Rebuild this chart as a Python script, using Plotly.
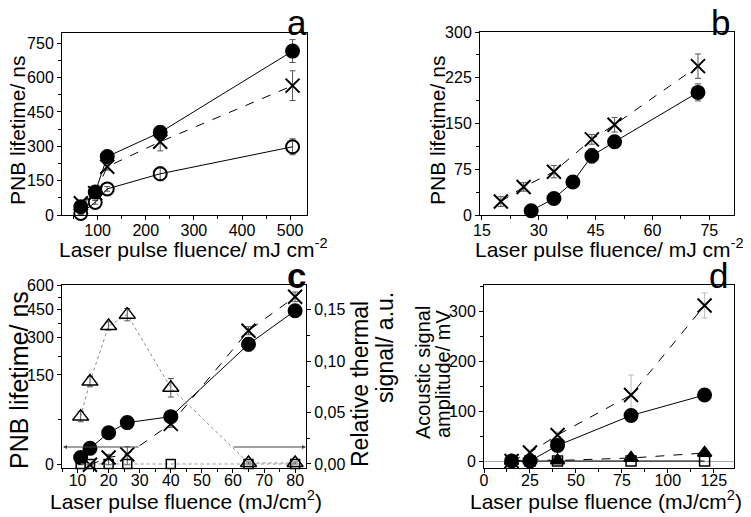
import numpy as np
import plotly.graph_objects as go

# page is shown with the browser's default 8px body margin
OFF = 8
W, H = 751 - OFF, 517 - OFF
FONT = "Liberation Sans, Arial, sans-serif"

# ---- panel a: PNB lifetime vs fluence
a_x = [65, 95, 120, 230, 505]
a_filled = [36, 100, 255, 361, 716]
a_filled_err = [8, 12, 15, 25, 50]
a_cross = [51, 95, 211, 320, 565]
a_cross_err = [8, 10, 15, 40, 65]
a_open = [7, 55, 114, 180, 298]
a_open_err = [5, 8, 10, 30, 35]

# ---- panel b
b_filled_x = [28, 34, 39, 44, 50, 72]
b_filled = [7, 27, 54, 97, 120, 201]
b_filled_err = [4, 5, 5, 12, 10, 14]
b_cross_x = [20, 26, 34, 44, 50, 72]
b_cross = [22, 46, 71, 124, 148, 244]
b_cross_err = [8, 7, 10, 8, 12, 20]

# ---- panel c (left axis is sqrt-like, right axis linear)
c_x = [11, 14, 20, 26, 40, 65, 80]
c_filled = [1, 5, 19, 33, 43, 270, 441]
c_filled_err = [1, 2, 4, 5, 5, 30, 35]
c_cross_x = [14, 20, 26, 40, 65, 80]
c_cross = [0, 1, 2, 31, 334, 524]
c_cross_err = [0, 1, 4, 5, 20, 30]
c_thermal = [0.046, 0.080, 0.134, 0.145, 0.074, 0.001, 0.001]
c_thermal_err = [0.005, 0.005, 0.004, 0.006, 0.009, 0.001, 0.001]
c_square = [0, 0, 0, 0, 0, 0, 0]
c_left_ticks = [0, 150, 300, 450, 600]

# ---- panel d: acoustic amplitude
d_x = [15, 25, 40, 80, 120]
d_cross = [0, 17, 52, 132, 311]
d_cross_err = [2, 5, 6, 40, 25]
d_filled = [0, 0, 31, 91, 132]
d_filled_err = [1, 2, 4, 6, 12]
d_tri = [0, 3, 1, 6, 16]
d_square = [0, 0, 0, 0, 0]


def px(x):
    return (x - OFF) / W


def py(y):
    return 1 - (y - OFF) / H


def err(vals, color="#555"):
    return dict(type="data", array=vals, color=color, thickness=1, width=3)


def series(x, y, xa, ya, symbol, size=13, dash="solid", lcolor="black",
           error=None, lw=1, mline=2):
    return go.Scatter(
        x=x, y=y, xaxis=xa, yaxis=ya, mode="lines+markers",
        line=dict(color=lcolor, width=lw, dash=dash),
        marker=dict(symbol=symbol, size=size, color="black",
                    line=dict(color="black", width=mline)),
        error_y=error, cliponaxis=False, showlegend=False,
    )


fig = go.Figure()

# panel a
fig.add_trace(series(a_x, a_open, "x", "y", "circle-open", error=err(a_open_err)))
fig.add_trace(series(a_x, a_cross, "x", "y", "x-thin-open", 14, "dash", error=err(a_cross_err)))
fig.add_trace(series(a_x, a_filled, "x", "y", "circle", error=err(a_filled_err)))

# panel b
fig.add_trace(series(b_cross_x, b_cross, "x2", "y2", "x-thin-open", 14, "dash", error=err(b_cross_err)))
fig.add_trace(series(b_filled_x, b_filled, "x2", "y2", "circle", error=err(b_filled_err)))

# panel c: sqrt transform for the lifetime axis
sq = np.sqrt


def sq_err(vals, e):
    v = np.array(vals, float)
    e = np.array(e, float)
    return dict(type="data", symmetric=False, array=sq(v + e) - sq(v),
                arrayminus=sq(v) - sq(np.clip(v - e, 0, None)),
                color="#555", thickness=1, width=3)


fig.add_trace(series(c_x, c_square, "x3", "y5", "square-open", 9, "dot", "#999", mline=1.5))
fig.add_trace(series(c_x, c_thermal, "x3", "y5", "triangle-up-open", 14, "dot", "#888",
                     error=err(c_thermal_err), mline=1.5))
fig.add_trace(series(c_cross_x, sq(c_cross), "x3", "y3", "x-thin-open", 14, "dash",
                     error=sq_err(c_cross, c_cross_err)))
fig.add_trace(series(c_x, sq(c_filled), "x3", "y3", "circle",
                     error=sq_err(c_filled, c_filled_err)))

# panel d
fig.add_trace(series(d_x, d_square, "x4", "y4", "square-open", 10, mline=1.5))
fig.add_trace(series(d_x, d_tri, "x4", "y4", "triangle-up", 12, "dash"))
fig.add_trace(series(d_x, d_cross, "x4", "y4", "x-thin-open", 14, "dash", error=err(d_cross_err, "#bbb")))
fig.add_trace(series(d_x, d_filled, "x4", "y4", "circle", error=err(d_filled_err, "#bbb")))

tickfont = dict(size=16, color="black", family=FONT)
common = dict(showline=True, linecolor="black", linewidth=1, mirror=True,
              ticks="outside", ticklen=4, tickwidth=1, tickcolor="black",
              showgrid=False, zeroline=False, tickfont=tickfont, automargin=False)
minor = dict(ticks="outside", ticklen=3, tickcolor="black", tickwidth=1)

fig.update_layout(
    width=W, height=H, margin=dict(l=0, r=0, t=0, b=0),
    paper_bgcolor="white", plot_bgcolor="white",
    separators=",.", font=dict(family=FONT, color="black"),
    xaxis=dict(**common, domain=[px(62), px(307)], range=[26, 535], anchor="y",
               tickvals=[100, 200, 300, 400, 500], ticklabelstandoff=-3,
               minor=dict(**minor, dtick=50, tick0=0)),
    yaxis=dict(**common, domain=[py(215), py(33)], range=[0, 795], anchor="x",
               dtick=150, minor=dict(**minor, dtick=75)),
    xaxis2=dict(**common, domain=[px(480), px(734)], range=[14.5, 81.5], anchor="y2",
                tick0=15, dtick=15, ticklabelstandoff=-3,
                minor=dict(**minor, dtick=7.5, tick0=0)),
    yaxis2=dict(**common, domain=[py(215), py(32)], range=[0, 300], anchor="x2",
                dtick=75, minor=dict(**minor, dtick=37.5)),
    xaxis3=dict(**common, domain=[px(62), px(306)], range=[5, 83.5], anchor="y3",
                tick0=10, dtick=10, ticklabelstandoff=-6, minor=dict(**minor, dtick=5)),
    yaxis3=dict(**common, domain=[py(467.7), py(285)], range=[-0.4, 24.5], anchor="x3",
                tickvals=list(sq(c_left_ticks)), ticktext=[str(v) for v in c_left_ticks],
                minor=dict(**minor, tickvals=[6.12, 14.78, 19.27, 22.85])),
    yaxis5=dict(**{k: v for k, v in common.items() if k != "mirror"},
                overlaying="y3", side="right", anchor="x3", range=[-0.0036, 0.1738],
                dtick=0.05, tickformat=".2f", minor=dict(**minor, dtick=0.025)),
    xaxis4=dict(**common, domain=[px(484), px(734)], range=[0, 136], anchor="y4",
                dtick=25, ticklabelstandoff=-6, minor=dict(**minor, dtick=12.5)),
    yaxis4=dict(**common, domain=[py(468), py(285)], range=[-14, 352], anchor="x4",
                dtick=100, minor=dict(**minor, dtick=50)),
)
fig.update_yaxes(selector=dict(anchor="x4"), zeroline=True, zerolinecolor="#aaa", zerolinewidth=1)


def label(text, x, y, size=20, angle=0):
    fig.add_annotation(text=text, x=px(x), y=py(y), xref="paper", yref="paper",
                       showarrow=False, textangle=angle, xanchor="center", yanchor="middle",
                       font=dict(size=size, color="black", family=FONT))


# axis titles
label("Laser pulse fluence/ mJ cm<sup>-2</sup>", 194, 248, 21)
label("PNB lifetime/ ns", 18, 131, 21, angle=-90)
label("Laser pulse fluence/ mJ cm<sup>-2</sup>", 609, 248, 21)
label("PNB lifetime/ ns", 438, 131, 21, angle=-90)
label("Laser pulse fluence (mJ/cm<sup>2</sup>)", 186, 500, 21)
label("PNB lifetime/ ns", 19, 380, 25, angle=-90)
label("Relative thermal", 360, 384, 23, angle=-90)
label("signal/ a.u.", 385, 347, 23, angle=-90)
label("Laser pulse fluence (mJ/cm<sup>2</sup>)", 606, 500, 21)
label("Acoustic signal", 423, 373, angle=-90)
label("amplitude/ mV", 443, 374, angle=-90)

# panel letters
label("a", 297, 23, size=35)
label("b", 720, 23, size=35)
label("<b>c</b>", 296, 275, size=35)
label("d", 718, 275, size=35)

# axis-direction arrows in panel c
for head, tail in [(63, 140), (306, 232)]:
    fig.add_annotation(x=px(head), y=py(447), xref="paper", yref="paper",
                       ax=tail - head, ay=0, text="", showarrow=True,
                       arrowhead=2, arrowsize=0.8, arrowwidth=1, arrowcolor="#444")

fig.write_html("out.html")
